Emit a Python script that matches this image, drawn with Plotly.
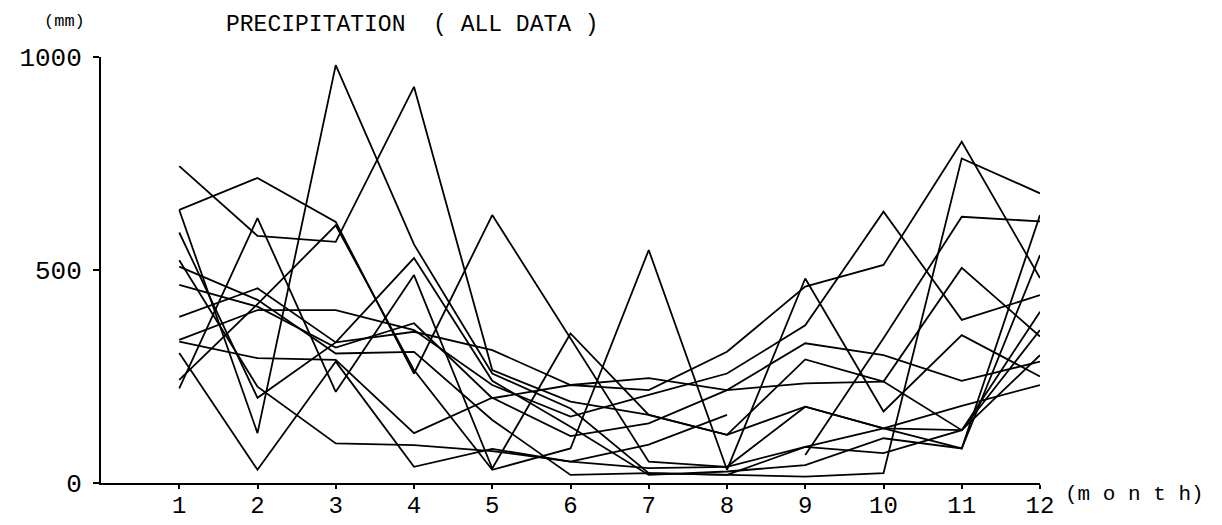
import plotly.graph_objects as go

# monthly precipitation (mm), one list per record
months = [1, 2, 3, 4, 5, 6, 7, 8, 9, 10, 11, 12]
month_labels = ["1", "2", "3", "4", "5", "6", "7", "8", "9", "10", "11", "12"]

rec_a = [744, 580, 566, 930, 265, 191, 160, 113, 290, 238, 124, 359]
rec_b = [641, 716, 613, 257, 629, 340, 50, 38, 179, 128, 81, 629]
rec_c = [641, 117, 981, 560, 257, 175, 23, 19, 15, 23, 762, 680]
rec_d = [588, 200, 330, 528, 240, 132, 19, 27, 42, 105, 81, 535]
rec_e = [523, 226, 93, 89, 75, 50, 90, 160, None, None, None, None]
rec_f = [508, 430, 304, 308, 148, 19, 23, 19, 85, 70, 124, 402]
rec_g = [465, 414, 318, 375, 199, 230, 218, 308, 461, 512, 801, 481]
rec_h = [390, 457, 330, 355, 312, 230, 246, 218, 234, 238, 505, 344]
rec_i = [336, 406, 406, 359, 230, 156, 207, 257, 370, 637, 383, 441]
rec_j = [332, 293, 289, 117, 200, 110, 140, 218, 328, 300, 240, 285]
rec_k = [305, 31, 285, 38, 80, 50, 35, 38, 85, 128, 181, 230]
rec_l = [242, 420, 605, 265, 31, 81, 547, 31, 480, 168, 347, 250]
rec_m = [222, 622, 214, 488, 34, 351, 160, 113, 179, 128, 124, 300]
rec_n = [None, None, None, None, None, None, None, None, 66, 340, 625, 614]

records = [rec_a, rec_b, rec_c, rec_d, rec_e, rec_f, rec_g,
           rec_h, rec_i, rec_j, rec_k, rec_l, rec_m, rec_n]

y_ticks = [0, 500, 1000]
y_labels = ["0", "500", "1000"]

FONT = "Liberation Mono"

fig = go.Figure()
for rec in records:
    fig.add_trace(go.Scatter(
        x=months, y=rec,
        mode="lines",
        line=dict(color="black", width=1.8),
        connectgaps=False,
        showlegend=False,
        hoverinfo="skip",
    ))

fig.update_xaxes(
    range=[0, 12],
    tickvals=months,
    ticktext=month_labels,
    showline=True, linecolor="black", linewidth=2,
    ticks="outside", ticklen=4, tickwidth=2, tickcolor="black",
    ticklabelstandoff=-5,
    showgrid=False, zeroline=False, automargin=False,
    tickfont=dict(family=FONT, size=24, color="black"),
)
fig.update_yaxes(
    range=[0, 1000],
    tickvals=y_ticks,
    ticktext=y_labels,
    showline=True, linecolor="black", linewidth=2,
    ticks="outside", ticklen=6, tickwidth=2, tickcolor="black",
    ticklabelstandoff=6,
    showgrid=False, zeroline=False, automargin=False,
    tickfont=dict(family=FONT, size=26, color="black"),
)

# the page body adds an 8px offset, margins are trimmed to compensate
fig.update_layout(
    width=1222, height=525,
    margin=dict(l=93, r=190, t=49, b=50),
    paper_bgcolor="white", plot_bgcolor="white",
    annotations=[
        dict(text="PRECIPITATION  ( ALL DATA )", xref="paper", yref="paper",
             x=0.332, y=1.111, xanchor="center", yanchor="top", showarrow=False,
             font=dict(family=FONT, size=23, color="black")),
        dict(text="(mm)", xref="paper", yref="paper",
             x=-0.039, y=1.111, xanchor="center", yanchor="top", showarrow=False,
             font=dict(family=FONT, size=17, color="black")),
        dict(text="(m o n t h)", xref="paper", yref="paper",
             x=1.101, y=-0.028, xanchor="center", yanchor="middle", showarrow=False,
             font=dict(family=FONT, size=21, color="black")),
    ],
)

fig.write_html("out.html")
